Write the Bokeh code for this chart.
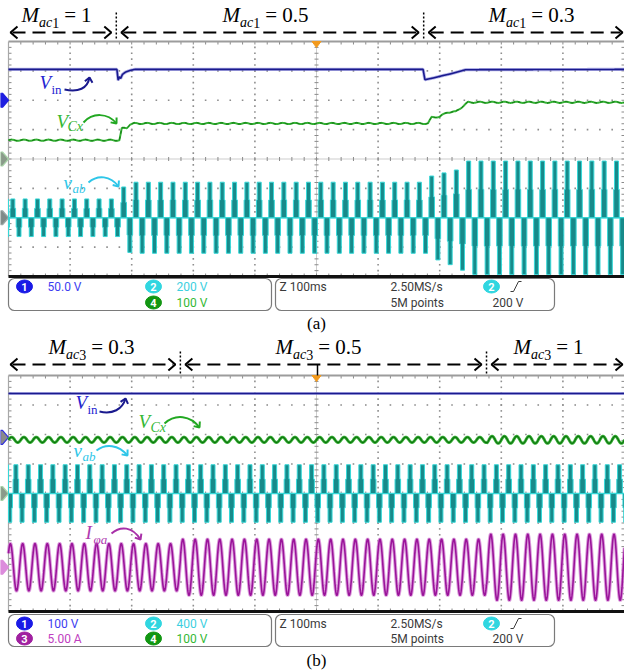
import math
import numpy as np
from bokeh.plotting import figure
from bokeh.models import Range1d, Label
from bokeh.embed import file_html
from bokeh.resources import INLINE

# ---------------- recorded quantities ----------------
SWEEP_MS = 1000            # 10 div x 100 ms
LINE_PERIOD_MS = 20        # 50 Hz fundamental

# (a) cell-1 modulation index stepped 1 -> 0.5 -> 0.3
a_mac = ["1", "0.5", "0.3"]
a_switch_ms = [175, 674]
a_vin_div, a_vab_div, a_vcx_div = 50, 200, 100      # V/div (ch1, ch2, ch4)
a_vin_pos, a_vab_pos, a_vcx_pos = 2.0, -2.0, 0.0     # ground reference, div
a_vin_t = [0, 176, 178, 180, 182, 185, 190, 198, 205, 673, 676, 690, 705, 718, 730, 742, 1000]
a_vin_v = [52.5, 52.5, 34, 40, 37, 44, 48, 51, 52.5, 52.5, 35, 38, 42, 45, 48.5, 52, 52.5]
a_vcx_t = [0, 180, 184, 192, 197, 204, 681, 687, 700, 712, 726, 746, 1000]
a_vcx_v = [64, 64, 104, 106, 118, 121, 121, 142, 144, 159, 161, 193, 193]
a_vcx_ripple = 2.0
a_vab_phase_ms = 7

# (b) cell-3 modulation index stepped 0.3 -> 0.5 -> 1
b_mac = ["0.3", "0.5", "1"]
b_switch_ms = [279, 776]
b_vin_div, b_vab_div, b_ia_div, b_vcx_div = 100, 400, 5, 100
b_vin_pos, b_vab_pos, b_ia_pos, b_vcx_pos = 1.9, 0.0, -2.5, 0.0
b_vin = 149
b_vcx = 182
b_vcx_ripple = [9, 9, 12]
b_vab_step = 195
b_ia_peak = [4.0, 4.75, 5.6]
b_vab_phase_ms = 12
b_ia_phase_ms = 3

# ---------------- page geometry ----------------
W, H = 624, 671
GX0, GX1 = 8, 624
DX = (GX1 - GX0) / 10
PA = (41, 276)
PB = (375, 611)
SERIF = "Liberation Serif"
SANS = "Roboto"

C_VIN, C_VIN_HALO = "#1a1a8e", "#8080d8"
C_VCX, C_VCX_DARK = "#36b236", "#0e6e0e"
C_VAB_FILL, C_VAB_EDGE = "#178a8a", "#36d8d8"
C_IA, C_IA_HALO = "#9a149a", "#d486d4"


def tpx(ms):
    return GX0 + ms / 100 * DX


p = figure(width=W, height=H, x_range=Range1d(0, W), y_range=Range1d(H, 0),
           output_backend="svg", toolbar_location=None, min_border=0,
           x_axis_location=None, y_axis_location=None, title=None,
           outline_line_color=None, background_fill_color="white",
           border_fill_color="white")
p.xgrid.visible = False
p.ygrid.visible = False

ppa = (PA[1] - PA[0]) / 8
ppb = (PB[1] - PB[0]) / 8
p.extra_x_ranges = {"t": Range1d(-GX0 / DX * 100, SWEEP_MS + (W - GX1) / DX * 100)}
p.extra_y_ranges = {"a": Range1d(-4 - (H - PA[1]) / ppa, 4 + PA[0] / ppa),
                    "b": Range1d(-4 - (H - PB[1]) / ppb, 4 + PB[0] / ppb)}


def label(x, y, text, size, color="#000000", italic=False, font=SERIF,
          align="left", baseline="alphabetic", bold=False):
    # serif runs are given by their baseline; place them by the em-box centre
    if baseline == "alphabetic":
        y = y - 0.34 * size
        baseline = "middle"
    style = "italic" if italic else ("bold" if bold else "normal")
    p.add_layout(Label(x=x, y=y, text=text, text_font=font,
                       text_font_size=f"{size}px", text_font_style=style,
                       text_color=color, text_align=align, text_baseline=baseline))


# ---------------- graticule ----------------
def graticule(top, bot):
    pp = (bot - top) / 8
    dx, dy = [], []
    for k in range(1, 10):
        if k == 5:
            continue
        for j in range(1, 40):
            dx.append(GX0 + k * DX)
            dy.append(top + j * pp / 5)
    for j in range(1, 8):
        if j == 4:
            continue
        for k in range(1, 50):
            dx.append(GX0 + k * DX / 5)
            dy.append(top + j * pp)
    p.scatter(dx, dy, marker="square", size=1.6, fill_color="#8e8e8e", line_color=None)
    cx, cy = GX0 + 5 * DX, top + 4 * pp
    p.line([cx, cx], [top, bot], line_color="#9a9a9a", line_dash="1 1")
    p.line([GX0, GX1], [cy, cy], line_color="#9a9a9a", line_dash="1 1")
    x0, y0, x1, y1 = [], [], [], []
    for j in range(1, 40):
        y = top + j * pp / 5
        x0 += [cx - 2, GX0, GX1]
        x1 += [cx + 2, GX0 + 3, GX1 - 3]
        y0 += [y, y, y]
        y1 += [y, y, y]
    for k in range(1, 50):
        x = GX0 + k * DX / 5
        x0 += [x, x, x]
        x1 += [x, x, x]
        y0 += [cy - 2, top, bot]
        y1 += [cy + 2, top + 3, bot - 3]
    p.segment(x0, y0, x1, y1, line_color="#8a8a8a", line_width=1)
    p.line([GX0, GX1], [top, top], line_color="#9c9c9c", line_width=2)
    p.line([GX0, GX0], [top, bot], line_color="#a8a8a8", line_width=1.2)
    p.line([GX0, GX1], [bot, bot], line_color="#111111", line_width=3)
    p.patch([cx - 4.5, cx + 4.5, cx], [top, top, top + 6],
            fill_color="#f29a1e", line_color="#f29a1e")


graticule(*PA)
graticule(*PB)


# ---------------- channel reference markers ----------------
def ref_marker(y, fill, edge):
    p.patch([0, 2, 8, 2, 0], [y - 7, y - 7, y, y + 7, y + 7],
            fill_color=fill, line_color=edge, line_width=1.2)


ref_marker(PA[0] + (4 - a_vin_pos) * ppa, "#1f1fe0", "#1f1fe0")
ref_marker(PA[0] + (4 - a_vcx_pos) * ppa, "#8a9a8a", "#a8d4a8")
ref_marker(PA[0] + (4 - a_vab_pos) * ppa, "#7f8a88", "#9aa8a6")
ref_marker(PB[0] + (4 - b_vin_pos) * ppb, "#8a8a8a", "#3030e0")
ref_marker(PB[0] + (4 - b_vab_pos) * ppb, "#8a9a8a", "#a8d4a8")
ref_marker(PB[0] + (4 - b_ia_pos) * ppb, "#dc8cdc", "#dc8cdc")

# ---------------- waveforms ----------------
t = np.linspace(0, SWEEP_MS, 4001)
w = 2 * np.pi / LINE_PERIOD_MS


def vab_shapes(phase, step_at, pos, vdiv):
    xs, ys = [], []
    half = LINE_PERIOD_MS / 2
    w1, w2 = 9.0, 6.5        # width of one-level and two-level portions, ms
    c = phase - LINE_PERIOD_MS
    while c - half < SWEEP_MS + LINE_PERIOD_MS:
        for sgn, cc in ((1, c), (-1, c + half)):
            lv = sgn * step_at(cc) / vdiv
            xx = [cc - w1 / 2, cc - w1 / 2, cc - w2 / 2, cc - w2 / 2,
                  cc + w2 / 2, cc + w2 / 2, cc + w1 / 2, cc + w1 / 2]
            yy = [0, lv, lv, 2 * lv, 2 * lv, lv, lv, 0]
            xs.append([float(v) for v in np.clip(xx, 0, SWEEP_MS)])
            ys.append([pos + v for v in yy])
        c += LINE_PERIOD_MS
    return xs, ys


# panel (a)
vin_a = np.interp(t, a_vin_t, a_vin_v)
vcx_a = np.interp(t, a_vcx_t, a_vcx_v) + a_vcx_ripple * np.sin(w * t)
ax, ay = vab_shapes(a_vab_phase_ms, lambda c: np.interp(c, a_vcx_t, a_vcx_v),
                    a_vab_pos, a_vab_div)
p.line([0, SWEEP_MS], [a_vab_pos, a_vab_pos], x_range_name="t", y_range_name="a",
       line_color=C_VAB_EDGE, line_width=1.5)
p.patches(ax, ay, x_range_name="t", y_range_name="a",
          fill_color=C_VAB_FILL, line_color=C_VAB_EDGE, line_width=1)
p.line(t, a_vin_pos + vin_a / a_vin_div, x_range_name="t", y_range_name="a",
       line_color=C_VIN_HALO, line_width=3.2, line_alpha=0.6)
p.line(t, a_vin_pos + vin_a / a_vin_div, x_range_name="t", y_range_name="a",
       line_color=C_VIN, line_width=1.6)
p.line(t, a_vcx_pos + vcx_a / a_vcx_div, x_range_name="t", y_range_name="a",
       line_color=C_VCX, line_width=2)
p.line(t, a_vcx_pos + vcx_a / a_vcx_div, x_range_name="t", y_range_name="a",
       line_color=C_VCX_DARK, line_width=1, line_dash="3 3")

# panel (b)
seg_b = np.searchsorted(b_switch_ms, t)
vcx_b = b_vcx + np.array(b_vcx_ripple)[seg_b] * np.sin(w * t)
ia_b = np.array(b_ia_peak)[seg_b] * np.cos(w * (t - b_ia_phase_ms))
bx, by = vab_shapes(b_vab_phase_ms, lambda c: b_vab_step, b_vab_pos, b_vab_div)
p.line([0, SWEEP_MS], [b_vab_pos, b_vab_pos], x_range_name="t", y_range_name="b",
       line_color=C_VAB_EDGE, line_width=1.5)
p.patches(bx, by, x_range_name="t", y_range_name="b",
          fill_color=C_VAB_FILL, line_color=C_VAB_EDGE, line_width=1)
p.line([0, SWEEP_MS], [b_vin_pos + b_vin / b_vin_div] * 2, x_range_name="t", y_range_name="b",
       line_color=C_VIN_HALO, line_width=3.2, line_alpha=0.6)
p.line([0, SWEEP_MS], [b_vin_pos + b_vin / b_vin_div] * 2, x_range_name="t", y_range_name="b",
       line_color=C_VIN, line_width=1.6)
p.line(t, b_vcx_pos + vcx_b / b_vcx_div, x_range_name="t", y_range_name="b",
       line_color=C_VCX, line_width=3)
p.line(t, b_vcx_pos + vcx_b / b_vcx_div, x_range_name="t", y_range_name="b",
       line_color=C_VCX_DARK, line_width=1.1)
p.line(t, b_ia_pos + ia_b / b_ia_div, x_range_name="t", y_range_name="b",
       line_color=C_IA_HALO, line_width=3.6, line_alpha=0.8)
p.line(t, b_ia_pos + ia_b / b_ia_div, x_range_name="t", y_range_name="b",
       line_color=C_IA, line_width=1.6)

# ---------------- headers: modulation-index intervals ----------------
EM_R = {" ": .25, "=": .564, ".": .25, "(": .333, ")": .333}
EM_I = {"M": .833, "a": .5, "c": .444}


def text_w(s, size, italic):
    table = EM_I if italic else EM_R
    return sum(table.get(ch, 0.5) for ch in s) * size


def header(cx, base, cell, val):
    runs = [("M", 21, True, 0, 0), ("ac", 14, True, 5, 0), (cell, 14, False, 5, 0),
            ("=", 21, False, 0, 5), (val, 21, False, 0, 5)]
    total = sum(text_w(s, sz, it) + gap for s, sz, it, _, gap in runs)
    x = cx - total / 2
    for s, sz, it, dy, gap in runs:
        x += gap
        label(x, base + dy, s, sz, italic=it)
        x += text_w(s, sz, it)


def interval_arrows(switch_ms, y, sep_top, sep_bot):
    seps = [tpx(s) for s in switch_ms]
    bounds = [GX0 + 1] + seps + [GX1 - 2]
    for i in range(len(bounds) - 1):
        xl = bounds[i] + (5 if i > 0 else 1)
        xr = bounds[i + 1] - (5 if i < len(bounds) - 2 else 0)
        p.line([xl + 2, xr - 2], [y, y], line_color="black", line_width=2, line_dash="13 7")
        p.line([xl + 7, xl, xl + 7], [y - 6, y, y + 6], line_color="black", line_width=2)
        p.line([xr - 7, xr, xr - 7], [y - 6, y, y + 6], line_color="black", line_width=2)
    p.segment(switch_ms, [sep_top] * len(switch_ms), switch_ms, [sep_bot] * len(switch_ms),
              x_range_name="t", line_color="black", line_width=1.5, line_dash="2 2")


for cx, val in zip([56, 265, 531], a_mac):
    header(cx, 22, "1", val)
interval_arrows(a_switch_ms, 32, 12, PA[0] - 1)
for cx, val in zip([91, 318, 548], b_mac):
    header(cx, 354, "3", val)
interval_arrows(b_switch_ms, 364, 351, PB[0] - 1)
p.line([GX0 + 5 * DX + 1] * 2, [364, PB[0]], line_color="black", line_width=1.5)


# ---------------- trace annotations ----------------
def curved_arrow(x0, y0, cx0, cy0, cx1, cy1, x1, y1, color):
    p.bezier(x0=[x0], y0=[y0], x1=[x1], y1=[y1], cx0=[cx0], cy0=[cy0], cx1=[cx1], cy1=[cy1],
             line_color=color, line_width=2)
    dxv, dyv = x1 - cx1, y1 - cy1
    n = math.hypot(dxv, dyv)
    ux, uy = -dxv / n, -dyv / n
    arms = []
    for ang in (math.radians(40), math.radians(-40)):
        rx = ux * math.cos(ang) - uy * math.sin(ang)
        ry = ux * math.sin(ang) + uy * math.cos(ang)
        arms.append((x1 + 6 * rx, y1 + 6 * ry))
    p.line([arms[0][0], x1, arms[1][0]], [arms[0][1], y1, arms[1][1]],
           line_color=color, line_width=2)


# (a)
label(39, 88, "V", 19, "#2424d2", italic=True)
label(51, 93, "in", 13, "#2424d2")
curved_arrow(64, 89, 78, 92, 87, 88, 89, 77, C_VIN)
label(56, 127, "V", 19, "#33b833", italic=True)
label(67, 131, "Cx", 14, "#33b833", italic=True)
curved_arrow(83, 122, 92, 112, 107, 112, 116, 123, "#22a822")
label(63, 188, "v", 19, "#2ec6e8", italic=True)
label(72, 192, "ab", 13, "#2ec6e8", italic=True)
curved_arrow(88, 182, 97, 174, 110, 175, 118, 186, "#2ec6e8")
# (b)
label(75, 408, "V", 19, "#2424d2", italic=True)
label(87, 413, "in", 13, "#2424d2")
curved_arrow(99, 411, 112, 414, 122, 409, 125, 398, C_VIN)
label(138, 427, "V", 19, "#33b833", italic=True)
label(150, 432, "Cx", 14, "#33b833", italic=True)
curved_arrow(164, 423, 175, 413, 190, 415, 199, 427, "#22a822")
label(73, 456, "v", 19, "#2ec6e8", italic=True)
label(82, 460, "ab", 13, "#2ec6e8", italic=True)
curved_arrow(96, 450, 105, 443, 118, 444, 127, 455, "#2ec6e8")
label(85, 538, "I", 19, "#b03cb0", italic=True)
label(93, 543, "φa", 13, "#b03cb0", italic=True)
curved_arrow(111, 533, 120, 525, 132, 526, 140, 539, "#a830a8")


# ---------------- status bars ----------------
BLUE, CYAN, GREEN, PURPLE = "#1a1ae6", "#30d6e0", "#129612", "#a020a0"
T_BLUE, T_CYAN, T_GREEN, T_PURPLE, T_GRAY = "#3c3cf0", "#3ccfe0", "#33b833", "#c040c0", "#3a3a3a"


def box(x0, x1, y0, y1):
    p.quad(left=x0, right=x1, top=y0, bottom=y1, fill_color="white",
           line_color="#7a7a7a", line_width=1.2, border_radius=6)


def badge(x, y, n, color):
    p.ellipse(x, y, width=16, height=13, fill_color=color, line_color=color)
    label(x, y + 0.5, n, 11, "white", font=SANS, align="center", baseline="middle", bold=True)


def status(y0, y1, r1, r2, left_rows):
    box(GX0, 271, y0, y1)
    box(275, 554, y0, y1)
    for (bx_, row, n, color, txt, tcolor) in left_rows:
        badge(bx_, row, n, color)
        label(bx_ + 23, row, txt, 12, tcolor, font=SANS, baseline="middle")
    label(279, r1, "Z 100ms", 12, T_GRAY, font=SANS, baseline="middle")
    label(390, r1, "2.50MS/s", 12, T_GRAY, font=SANS, baseline="middle")
    label(390, r2, "5M points", 12, T_GRAY, font=SANS, baseline="middle")
    badge(491, r1, "2", CYAN)
    p.line([510, 513, 518, 521], [r1 + 5, r1 + 5, r1 - 5, r1 - 5], line_color=T_GRAY, line_width=1)
    label(492, r2, "200 V", 12, T_GRAY, font=SANS, baseline="middle")


status(278, 310, 286, 302, [
    (24, 286, "1", BLUE, "50.0 V", T_BLUE),
    (153, 286, "2", CYAN, "200 V", T_CYAN),
    (153, 302, "4", GREEN, "100 V", T_GREEN),
])
label(316, 323, "(a)", 17, align="center", baseline="middle")

status(614, 646, 623, 638, [
    (24, 623, "1", BLUE, "100 V", T_BLUE),
    (24, 638, "3", PURPLE, "5.00 A", T_PURPLE),
    (153, 623, "2", CYAN, "400 V", T_CYAN),
    (153, 638, "4", GREEN, "100 V", T_GREEN),
])
label(316, 660, "(b)", 17, align="center", baseline="middle")

open("out.html", "w").write(file_html(p, INLINE))
